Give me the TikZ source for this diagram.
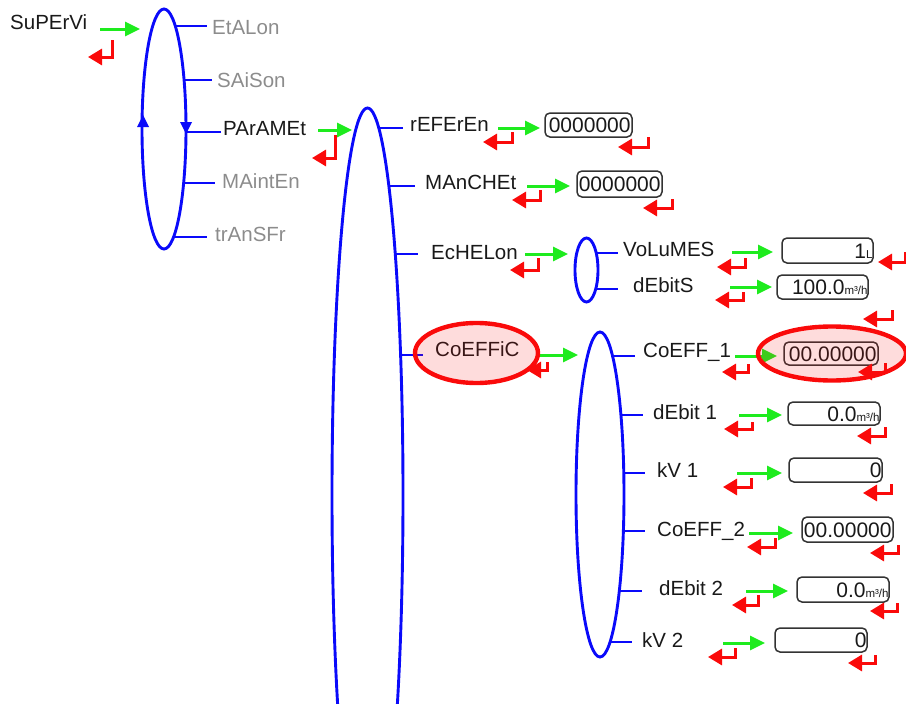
\documentclass[tikz,border=0pt]{standalone}
\usepackage{fontspec}
\setmainfont{Liberation Sans}
\usetikzlibrary{arrows.meta,shapes.geometric}
\definecolor{myblue}{RGB}{10,10,250}
\definecolor{mygreen}{RGB}{30,235,30}
\definecolor{myred}{RGB}{250,10,10}
\definecolor{mygray}{RGB}{140,140,140}
\definecolor{mytxt}{RGB}{25,25,25}
\newcommand\myunit[1]{{\fontsize{11.5}{11.5}\selectfont #1}}
\newcommand\mygo[3]{\draw[garr] (#1,#3) -- (#2,#3);}
\newcommand\myret[4]{\draw[rret] (#1,#2) -- (#1,#3) -- (#4,#3);}
\begin{document}
\begin{tikzpicture}[x=1pt,y=-1pt,
 ell/.style={draw=myblue,line width=2.9pt,ellipse,inner sep=0pt},
 br/.style={draw=myblue,line width=2.7pt},
 lbl/.style={anchor=west,inner sep=0pt,text=mytxt,font=\fontsize{20.5}{22}\selectfont,text height=14.5pt,text depth=0pt},
 glbl/.style={lbl,text=mygray},
 garr/.style={draw=mygreen,line width=3pt,-{Triangle[length=15pt,width=14pt]}},
 rret/.style={draw=myred,line width=3pt,-{Triangle[length=14pt,width=16pt]}},
 valbox/.style={draw=black!80,line width=1.5pt,rounded corners=5pt,inner sep=0pt},
 valtxt/.style={anchor=east,inner sep=0pt,text=mytxt,font=\fontsize{21}{22}\selectfont,text height=15pt,text depth=0pt},
 hilite/.style={draw=myred,line width=4.4pt,fill=myred,fill opacity=0.14,ellipse,inner sep=0pt}
]
\useasboundingbox (0,0) rectangle (906,704);
\clip (0,0) rectangle (906,704);

% ---------- level 1 ----------
\node[lbl] (supervi) at (10,22.5) {SuPErVi};
\mygo{100}{140}{29}
\myret{112}{40}{57}{88}

\node[ell,minimum width=44pt,minimum height=240pt] (e1) at (164,129) {};
\fill[myblue] (137,127) -- (149,127) -- (143,115) -- cycle;
\fill[myblue] (180,122) -- (192,122) -- (186,134) -- cycle;

\draw[br] (175,26) -- (207,26);
\node[glbl] (etalon) at (212,27) {EtALon};
\draw[br] (184,80) -- (212,80);
\node[glbl] (saison) at (217,80.5) {SAiSon};
\draw[br] (186,132) -- (221,132);
\node[lbl] (param) at (223,128.5) {PArAMEt};
\draw[br] (183.6,183) -- (215,183);
\node[glbl] (mainten) at (222,181.5) {MAintEn};
\draw[br] (174,237) -- (207,237);
\node[glbl] (transfr) at (215,234) {trAnSFr};

\mygo{318}{352}{130}
\myret{335}{135}{158}{312}

% ---------- level 2 ----------
\node[ell,minimum width=71pt,minimum height=774pt] (e2) at (367.5,495) {};

\draw[br] (379,128) -- (403,128);
\node[lbl] (refer) at (410,124.5) {rEFErEn};
\mygo{498}{540}{128}
\myret{512}{132}{142}{483}
\node[valbox,minimum width=87pt,minimum height=24pt] (v1) at (588.5,125) {};
\node[valtxt] at ([xshift=-2pt]v1.east) {0000000};
\myret{648}{137}{147}{618}

\draw[br] (389,186) -- (415,186);
\node[lbl] (manch) at (425,182.5) {MAnCHEt};
\mygo{527}{570}{186}
\myret{540}{190}{200}{512}
\node[valbox,minimum width=85pt,minimum height=26pt] (v2) at (619.5,184) {};
\node[valtxt] at ([xshift=-2pt]v2.east) {0000000};
\myret{672}{199}{208}{643}

\draw[br] (395,254) -- (418,254);
\node[lbl] (echel) at (431,252.5) {EcHELon};
\mygo{525}{568}{254}
\myret{538}{258}{270}{510}

\draw[br] (400,355) -- (423,355);
\node[lbl] (coeffic) at (435,349.5) {CoEFFiC};
\mygo{540}{578}{355}
\myret{547}{362}{370}{527}

% ---------- echelon ----------
\node[ell,minimum width=23pt,minimum height=64pt] (e3) at (586.5,270) {};
\draw[br] (596,253) -- (618,253);
\node[lbl] (volumes) at (623,249.5) {VoLuMES};
\mygo{732}{773}{252}
\myret{745}{258}{267}{717}
\node[valbox,minimum width=91pt,minimum height=25pt] (v3) at (827.5,250.5) {};
\node[valtxt] at ([xshift=-1pt]v3.east) {1\myunit{L}};
\myret{905}{252}{262}{878}

\draw[br] (596,289) -- (618,289);
\node[lbl] (debits) at (633,285.5) {dEbitS};
\mygo{730}{772}{287}
\myret{743}{292}{300}{715}
\node[valbox,minimum width=91pt,minimum height=24pt] (v4) at (822.5,287) {};
\node[valtxt] at ([xshift=-1pt]v4.east) {100.0\myunit{m³/h}};
\myret{892}{310}{319}{863}

% ---------- coefficients ----------
\node[ell,minimum width=48pt,minimum height=325pt] (e4) at (600,494.5) {};

\draw[br] (612.6,356) -- (635,356);
\node[lbl] (coeff1) at (643,350.5) {CoEFF\_1};
\mygo{735}{777}{356}
\myret{748}{364}{372}{722}
\node[valbox,minimum width=94pt,minimum height=23pt] (v5) at (831,353.5) {};
\node[valtxt] at ([xshift=-2pt]v5.east) {00.00000};
\myret{885}{363}{372}{858}

\draw[br] (621,415) -- (643,415);
\node[lbl] (debit1) at (653,412) {dEbit 1};
\mygo{739}{782}{415}
\myret{752}{422}{429}{724}
\node[valbox,minimum width=92pt,minimum height=23pt] (v6) at (834,413.5) {};
\node[valtxt] at ([xshift=-1pt]v6.east) {0.0\myunit{m³/h}};
\myret{885}{427}{436}{857}

\draw[br] (623.8,473) -- (645,473);
\node[lbl] (kv1) at (657,470) {kV 1};
\mygo{737}{782}{473}
\myret{751}{478}{487}{723}
\node[valbox,minimum width=93pt,minimum height=24pt] (v7) at (835.5,470) {};
\node[valtxt] at ([xshift=-1pt]v7.east) {0};
\myret{891}{484}{493}{863}

\draw[br] (623.4,531) -- (645,531);
\node[lbl] (coeff2) at (657,529) {CoEFF\_2};
\mygo{749}{793}{533}
\myret{775}{538}{547}{747}
\node[valbox,minimum width=91pt,minimum height=25pt] (v8) at (847.5,529.5) {};
\node[valtxt] at ([xshift=-2pt]v8.east) {00.00000};
\myret{898}{545}{553}{870}

\draw[br] (619.3,591) -- (642,591);
\node[lbl] (debit2) at (659,588.5) {dEbit 2};
\mygo{746}{788}{591}
\myret{758}{595}{605}{732}
\node[valbox,minimum width=92pt,minimum height=25pt] (v9) at (843,589.5) {};
\node[valtxt] at ([xshift=-1pt]v9.east) {0.0\myunit{m³/h}};
\myret{897}{603}{611}{870}

\draw[br] (610,642) -- (632,642);
\node[lbl] (kv2) at (642,640) {kV 2};
\mygo{723}{765}{643}
\myret{735}{648}{657}{708}
\node[valbox,minimum width=92pt,minimum height=24pt] (v10) at (821,640) {};
\node[valtxt] at ([xshift=-1pt]v10.east) {0};
\myret{875}{655}{663}{848}

% ---------- highlights ----------
\node[hilite,minimum width=123pt,minimum height=60pt] (h1) at (476.5,353) {};
\node[hilite,minimum width=148pt,minimum height=54pt] (h2) at (832,353.5) {};
\end{tikzpicture}
\end{document}
